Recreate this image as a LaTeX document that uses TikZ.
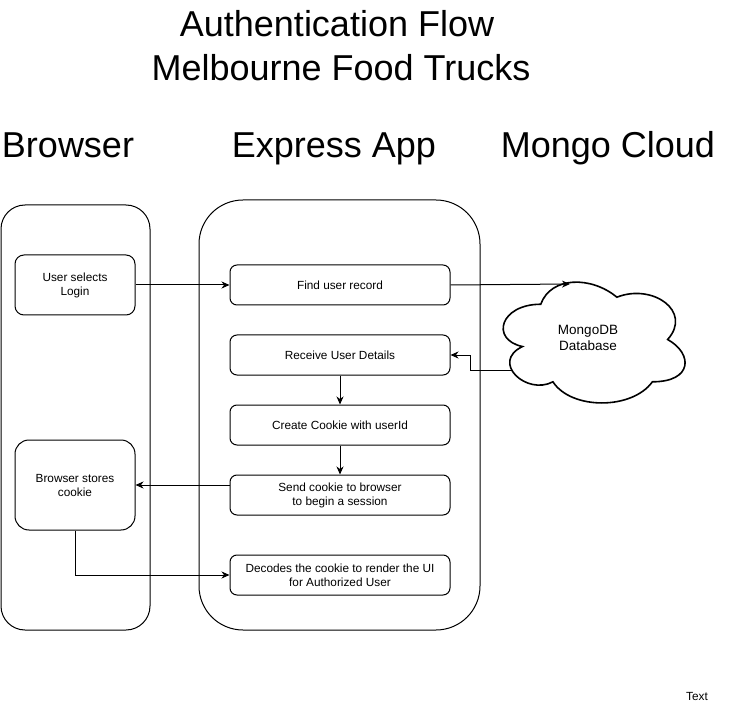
\documentclass[tikz,border=0pt]{standalone}
\usepackage{fontspec}
\setmainfont{Liberation Sans}
\usetikzlibrary{arrows.meta}
\begin{document}
\begin{tikzpicture}[x=1pt,y=-1pt,
 lane/.style={draw, line width=1pt},
 box/.style={draw, rounded corners=7pt, line width=1pt, minimum width=220pt, minimum height=40pt, align=center, font=\fontsize{11.8}{14}\selectfont, inner sep=0pt},
 sidebox/.style={box, minimum width=120pt},
 head/.style={font=\fontsize{36}{44}\selectfont, inner sep=0pt, anchor=base},
 conn/.style={-{Stealth[length=8pt,width=7pt,inset=2.5pt]}, line width=1pt}]
\useasboundingbox (0,0) rectangle (731,703);
% titles
\node[head] (t1) at (337,37) {Authentication Flow};
\node[head] (t2) at (341,81) {Melbourne Food Trucks};
\node[head] (h1) at (68,158) {Browser};
\node[head] (h2) at (334,158) {Express App};
\node[head] (h3) at (608,158) {Mongo Cloud};
% lanes
\draw[lane, rounded corners=24pt] (1,205) rectangle (150,630);
\draw[lane, rounded corners=44pt] (199,200) rectangle (480,630);
% boxes
\node[sidebox, minimum height=60pt, rounded corners=9pt] (login) at (75,285) {User selects\\Login};
\node[sidebox, minimum height=90pt, rounded corners=14pt] (stores) at (75,485) {Browser stores\\cookie};
\node[box] (find) at (340,285) {Find user record};
\node[box] (receive) at (340,355) {Receive User Details};
\node[box] (create) at (340,425) {Create Cookie with userId};
\node[box] (send) at (340,495) {Send cookie to browser\\to begin a session};
\node[box] (decode) at (340,575) {Decodes the cookie to render the UI\\for Authorized User};
% cloud (x0=490, y0=269, w=203, h=141)
\begin{scope}[shift={(490,269)}, line width=1.6pt]
\def\w{203}\def\h{141}
\draw (0.25*\w,0.25*\h)
  .. controls (0.05*\w,0.25*\h) and (0,0.5*\h) .. (0.16*\w,0.55*\h)
  .. controls (0,0.66*\h) and (0.18*\w,0.9*\h) .. (0.31*\w,0.8*\h)
  .. controls (0.4*\w,\h) and (0.7*\w,\h) .. (0.8*\w,0.8*\h)
  .. controls (\w,0.8*\h) and (\w,0.6*\h) .. (0.875*\w,0.5*\h)
  .. controls (\w,0.3*\h) and (0.8*\w,0.1*\h) .. (0.625*\w,0.2*\h)
  .. controls (0.5*\w,0.05*\h) and (0.3*\w,0.05*\h) .. cycle;
\end{scope}
\node[align=center, font=\fontsize{13.5}{15.5}\selectfont, inner sep=0pt] (cloud) at (588,338) {MongoDB\\Database};
\coordinate (cloudtop) at (570,284);
\coordinate (cloudleft) at (512,370);
% text label
\node[font=\fontsize{11.8}{14}\selectfont, inner sep=0pt] (txt) at (697,696) {Text};
% connectors
\draw[conn] (login.east) -- (find.west);
\draw[conn] (find.east) -- (cloudtop);
\draw[conn] (cloudleft) -- ++(-42,0) |- (receive.east);
\draw[conn] (receive.south) -- (create.north);
\draw[conn] (create.south) -- (send.north);
\draw[conn] (stores.east -| send.west) -- (stores.east);
\draw[conn] (stores.south) |- (decode.west);
\end{tikzpicture}
\end{document}
